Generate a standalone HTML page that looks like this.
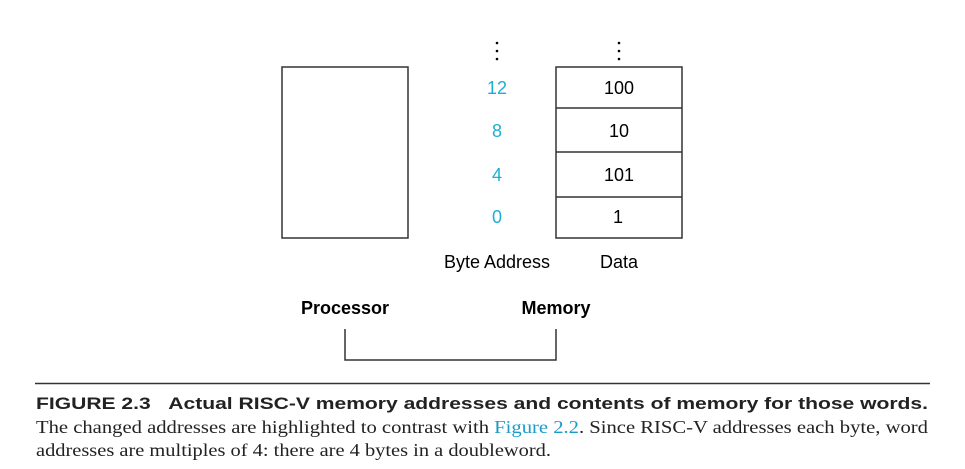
<!DOCTYPE html>
<html><head><meta charset="utf-8"><style>
html,body{margin:0;padding:0;background:#fff;}
svg{display:block;}
</style></head><body>
<svg width="965" height="469" viewBox="0 0 965 469" xmlns="http://www.w3.org/2000/svg">
<g fill="#000">
<circle cx="497" cy="43" r="1.3"/><circle cx="497" cy="51" r="1.3"/><circle cx="497" cy="59" r="1.3"/>
<circle cx="619" cy="43" r="1.3"/><circle cx="619" cy="51" r="1.3"/><circle cx="619" cy="59" r="1.3"/>
</g>
<g fill="none" stroke="#333" stroke-width="1.5">
<rect x="282" y="67" width="126" height="171"/>
<rect x="556" y="67" width="126" height="171"/>
<line x1="556" y1="108" x2="682" y2="108"/>
<line x1="556" y1="152" x2="682" y2="152"/>
<line x1="556" y1="197" x2="682" y2="197"/>
<polyline points="345,329 345,360 556,360 556,329"/>
</g>
<g font-family="Liberation Sans, sans-serif" font-size="18" text-anchor="middle">
<g fill="#1ab0d4">
<text x="497" y="94">12</text>
<text x="497" y="137">8</text>
<text x="497" y="181">4</text>
<text x="497" y="223">0</text>
</g>
<g fill="#000">
<text x="619" y="94">100</text>
<text x="619" y="137">10</text>
<text x="619" y="181">101</text>
<text x="618" y="223">1</text>
<text x="497" y="268">Byte Address</text>
<text x="619" y="268">Data</text>
<text x="345" y="314" font-weight="bold">Processor</text>
<text x="556" y="314" font-weight="bold">Memory</text>
</g>
</g>
<line x1="35" y1="383.5" x2="930" y2="383.5" stroke="#333" stroke-width="1.5"/>
<text x="36" y="409" font-family="Liberation Sans, sans-serif" font-weight="bold" font-size="17" fill="#222" textLength="892" lengthAdjust="spacingAndGlyphs">FIGURE 2.3&#160;&#160;&#160;Actual RISC-V memory addresses and contents of memory for those words.</text>
<text x="36" y="433" font-family="Liberation Serif, serif" font-size="18" fill="#222" textLength="892" lengthAdjust="spacingAndGlyphs">The changed addresses are highlighted to contrast with <tspan fill="#1a9ac8">Figure 2.2</tspan>. Since RISC-V addresses each byte, word</text>
<text x="36" y="456" font-family="Liberation Serif, serif" font-size="18" fill="#222" textLength="515" lengthAdjust="spacingAndGlyphs">addresses are multiples of 4: there are 4 bytes in a doubleword.</text>
</svg>
</body></html>
